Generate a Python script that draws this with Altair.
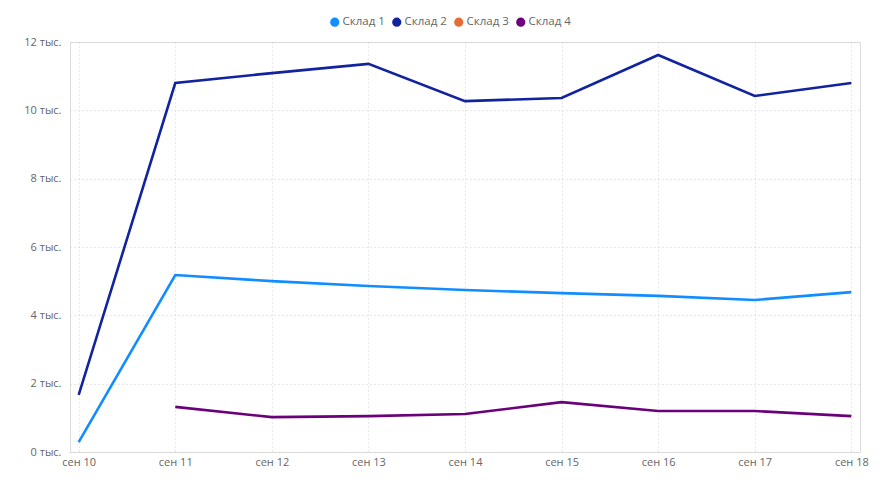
import altair as alt
import pandas as pd

dates = ["сен 10", "сен 11", "сен 12", "сен 13", "сен 14", "сен 15", "сен 16", "сен 17", "сен 18"]
series_names = ["Склад 1", "Склад 2", "Склад 3", "Склад 4"]
colors = ["#118DFF", "#12239E", "#E66C37", "#6B007B"]

sklad1 = [290, 5180, 5000, 4860, 4740, 4650, 4570, 4450, 4680]
sklad2 = [1670, 10800, 11090, 11360, 10270, 10360, 11620, 10420, 10800]
sklad3 = [None] * 9
sklad4 = [None, 1320, 1020, 1050, 1110, 1460, 1200, 1200, 1050]

y_ticks = [0, 2000, 4000, 6000, 8000, 10000, 12000]

rows = []
for name, vals in zip(series_names, [sklad1, sklad2, sklad3, sklad4]):
    for d, v in zip(dates, vals):
        if v is not None:
            rows.append({"date": d, "series": name, "value": v})
df = pd.DataFrame(rows)

font = "Open Sans"

chart = alt.Chart(df).mark_line(strokeWidth=2.6).encode(
    x=alt.X("date:O", sort=dates, scale=alt.Scale(domain=dates, padding=0.09),
            axis=alt.Axis(title=None, labelAngle=0, domain=False, ticks=False,
                          grid=True, gridDash=[1, 3], gridColor="#d0d0d0",
                          labelColor="#666666", labelFontSize=11, labelFont=font,
                          labelPadding=4)),
    y=alt.Y("value:Q", scale=alt.Scale(domain=[0, 12000], nice=False),
            axis=alt.Axis(title=None, values=y_ticks, domain=False, ticks=False,
                          grid=True, gridDash=[1, 3], gridColor="#d0d0d0",
                          labelColor="#666666", labelFontSize=11, labelFont=font,
                          labelPadding=9,
                          labelExpr="format(datum.value/1000, 'd') + ' тыс.'")),
    color=alt.Color("series:N", scale=alt.Scale(domain=series_names, range=colors),
                    legend=alt.Legend(title=None, orient="none", direction="horizontal",
                                      legendX=259, legendY=-26, symbolType="circle",
                                      symbolSize=22, symbolStrokeWidth=4.5,
                                      labelFont=font, labelFontSize=11.5,
                                      labelColor="#666666", labelOffset=2,
                                      columnPadding=0, symbolOpacity=1)),
    detail="series:N",
).properties(
    width=790, height=410,
    autosize=alt.AutoSizeParams(type="none"),
    padding={"left": 62, "top": 34, "right": 24, "bottom": 33},
).configure_view(stroke=None).configure(background="white")

chart.save("out.html", embed_options={"renderer": "svg", "actions": False})
